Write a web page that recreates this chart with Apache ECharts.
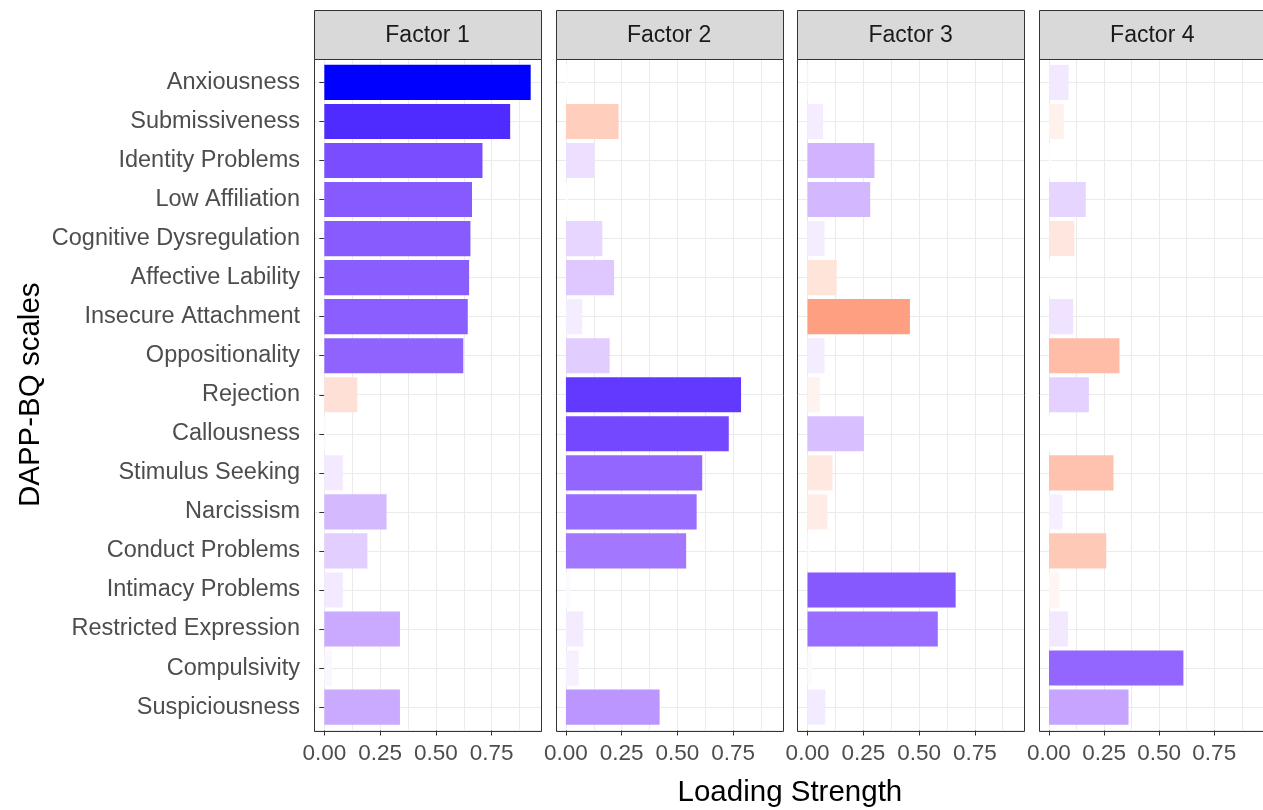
<!DOCTYPE html>
<html>
<head>
<meta charset="utf-8">
<script src="https://cdn.jsdelivr.net/npm/echarts@6/dist/echarts.min.js"></script>
<style>
  html, body { margin: 0; padding: 0; background: #ffffff; }
  #chart { width: 1263px; height: 810px; }
</style>
</head>
<body>
<div id="chart"></div>
<script>
// DAPP-BQ scale loadings on four factors (signed loadings; bar length = |loading|)
const scales = [
  'Anxiousness', 'Submissiveness', 'Identity Problems', 'Low Affiliation',
  'Cognitive Dysregulation', 'Affective Lability', 'Insecure Attachment',
  'Oppositionality', 'Rejection', 'Callousness', 'Stimulus Seeking',
  'Narcissism', 'Conduct Problems', 'Intimacy Problems',
  'Restricted Expression', 'Compulsivity', 'Suspiciousness'
];
const factorNames = ['Factor 1', 'Factor 2', 'Factor 3', 'Factor 4'];

const factor1 = [0.925, 0.833, 0.709, 0.662, 0.655, 0.649, 0.643, 0.623, -0.148, 0.01, 0.083, 0.279, 0.193, 0.083, 0.339, 0.033, 0.339];
const factor2 = [0.01, -0.236, 0.127, 0.01, 0.163, 0.216, 0.073, 0.196, 0.785, 0.730, 0.611, 0.586, 0.539, 0.02, 0.078, 0.057, 0.420];
const factor3 = [0.01, 0.070, 0.300, 0.281, 0.076, -0.131, -0.459, 0.076, -0.056, 0.253, -0.112, -0.090, 0.01, 0.664, 0.584, 0.02, 0.080];
const factor4 = [0.089, -0.067, 0.01, 0.167, -0.115, 0.005, 0.110, -0.320, 0.181, 0.005, -0.293, 0.062, -0.260, -0.047, 0.087, 0.610, 0.361];
const loadings = [factor1, factor2, factor3, factor4];

const tickValues = [0, 0.25, 0.5, 0.75];
const xTitle = 'Loading Strength';
const yTitle = 'DAPP-BQ scales';

// ---- layout ----
const FONT = '"Liberation Sans", Arial, Helvetica, sans-serif';
const PANEL_LEFT0 = 314;
const PANEL_STEP = 241.6;
const PANEL_W = 227;
const PANEL_TOP = 59;
const PANEL_H = 671.5;
const STRIP_TOP = 10;
const STRIP_H = PANEL_TOP - STRIP_TOP;
const GRID_COL = '#ebebeb';
const BORDER_COL = '#333333';

// discrete axis padded by 0.6 of a band on each side
const nCat = scales.length;
const unit = PANEL_H / (nCat - 1 + 1.2);
const innerTop = PANEL_TOP + 0.1 * unit;
const innerH = nCat * unit;

// continuous axis: 5% padding around [0, max|loading|]
const maxAbs = Math.max(...loadings.flat().map(Math.abs));
const xMin = -0.05 * maxAbs;
const xMax = 1.05 * maxAbs;

// ---- diverging fill: red - white - blue, interpolated in CIE Lab ----
function toLinear(c) { c /= 255; return c <= 0.04045 ? c / 12.92 : Math.pow((c + 0.055) / 1.055, 2.4); }
function fromLinear(c) { const v = c <= 0.0031308 ? 12.92 * c : 1.055 * Math.pow(c, 1 / 2.4) - 0.055; return Math.max(0, Math.min(255, Math.round(v * 255))); }
const XN = 0.95047, YN = 1.0, ZN = 1.08883;
function rgbToLab(rgb) {
  const [r, g, b] = rgb.map(toLinear);
  const X = (0.4124564 * r + 0.3575761 * g + 0.1804375 * b) / XN;
  const Y = (0.2126729 * r + 0.7151522 * g + 0.0721750 * b) / YN;
  const Z = (0.0193339 * r + 0.1191920 * g + 0.9503041 * b) / ZN;
  const f = t => t > 0.008856 ? Math.cbrt(t) : 7.787 * t + 16 / 116;
  const fx = f(X), fy = f(Y), fz = f(Z);
  return [116 * fy - 16, 500 * (fx - fy), 200 * (fy - fz)];
}
function labToRgb(lab) {
  const fy = (lab[0] + 16) / 116, fx = fy + lab[1] / 500, fz = fy - lab[2] / 200;
  const inv = t => t * t * t > 0.008856 ? t * t * t : (t - 16 / 116) / 7.787;
  const X = inv(fx) * XN, Y = inv(fy) * YN, Z = inv(fz) * ZN;
  const r = 3.2404542 * X - 1.5371385 * Y - 0.4985314 * Z;
  const g = -0.9692660 * X + 1.8760108 * Y + 0.0415560 * Z;
  const b = 0.0556434 * X - 0.2040259 * Y + 1.0572252 * Z;
  return [fromLinear(r), fromLinear(g), fromLinear(b)];
}
const LAB_LOW = rgbToLab([255, 0, 0]);
const LAB_MID = rgbToLab([255, 255, 255]);
const LAB_HIGH = rgbToLab([0, 0, 255]);
function fillFor(v) {
  const t = Math.min(1, Math.abs(v) / maxAbs);
  const end = v >= 0 ? LAB_HIGH : LAB_LOW;
  const lab = LAB_MID.map((m, k) => m + (end[k] - m) * t);
  const [r, g, b] = labToRgb(lab);
  return `rgb(${r},${g},${b})`;
}

// ---- build option ----
const grids = [], xAxes = [], yAxes = [], series = [], graphics = [];

loadings.forEach((vals, i) => {
  const left = PANEL_LEFT0 + i * PANEL_STEP;

  // panel background grid (gridlines, x ticks and labels)
  grids.push({ left: left, top: PANEL_TOP, width: PANEL_W, height: PANEL_H, containLabel: false });
  // data grid (bars on the category axis)
  grids.push({ left: left, top: innerTop, width: PANEL_W, height: innerH, containLabel: false });

  xAxes.push({
    type: 'value', gridIndex: 2 * i, min: xMin, max: xMax,
    minInterval: 0.25, maxInterval: 0.25,
    axisLine: { show: false },
    axisTick: { show: true, customValues: tickValues, length: 5, lineStyle: { color: BORDER_COL, width: 1 } },
    axisLabel: {
      show: true, customValues: tickValues, margin: 12,
      formatter: v => Number(v).toFixed(2),
      fontSize: 22.5, fontFamily: FONT, color: '#4d4d4d'
    },
    splitLine: { show: true, lineStyle: { color: GRID_COL, width: 1 } },
    minorTick: { show: false, splitNumber: 2 },
    minorSplitLine: { show: true, lineStyle: { color: GRID_COL, width: 1 } }
  });
  yAxes.push({
    type: 'value', gridIndex: 2 * i, min: 0.4, max: nCat + 0.6, inverse: true,
    minInterval: 1, maxInterval: 1,
    axisLine: { show: false }, axisTick: { show: false }, axisLabel: { show: false },
    splitLine: { show: true, lineStyle: { color: GRID_COL, width: 1 } }
  });

  xAxes.push({ type: 'value', gridIndex: 2 * i + 1, min: xMin, max: xMax, show: false });
  yAxes.push({
    type: 'category', gridIndex: 2 * i + 1, data: scales, inverse: true,
    show: i === 0,
    axisLine: { show: false },
    axisTick: { show: true, alignWithLabel: true, length: 5, lineStyle: { color: BORDER_COL, width: 1 } },
    axisLabel: { show: true, margin: 14, fontSize: 23.5, fontFamily: FONT, color: '#4d4d4d' },
    splitLine: { show: false }
  });

  series.push({
    type: 'bar', name: factorNames[i],
    xAxisIndex: 2 * i + 1, yAxisIndex: 2 * i + 1,
    barWidth: '90%', silent: true,
    data: vals.map(v => ({ value: Math.abs(v), itemStyle: { color: fillFor(v) } }))
  });

  // panel border and facet strip
  const x0 = Math.round(left) + 0.5;
  graphics.push({
    type: 'rect', z: 100, silent: true,
    shape: { x: x0, y: PANEL_TOP + 0.5, width: PANEL_W, height: Math.round(PANEL_H) },
    style: { fill: null, stroke: BORDER_COL, lineWidth: 1 }
  });
  graphics.push({
    type: 'rect', z: 100, silent: true,
    shape: { x: x0, y: STRIP_TOP + 0.5, width: PANEL_W, height: STRIP_H },
    style: { fill: '#d9d9d9', stroke: BORDER_COL, lineWidth: 1 }
  });
  graphics.push({
    type: 'text', z: 101, silent: true,
    x: left + PANEL_W / 2, y: STRIP_TOP + STRIP_H / 2 + 1,
    style: { text: factorNames[i], textAlign: 'center', textVerticalAlign: 'middle',
             font: '23px ' + FONT, fill: '#1a1a1a' }
  });
});

// axis titles
const panelsRight = PANEL_LEFT0 + 3 * PANEL_STEP + PANEL_W;
graphics.push({
  type: 'text', silent: true,
  x: (PANEL_LEFT0 + panelsRight) / 2, y: 793,
  style: { text: xTitle, textAlign: 'center', textVerticalAlign: 'middle', font: '29.5px ' + FONT, fill: '#000000' }
});
graphics.push({
  type: 'text', silent: true,
  x: 31, y: PANEL_TOP + PANEL_H / 2, rotation: Math.PI / 2,
  style: { text: yTitle, textAlign: 'center', textVerticalAlign: 'middle', font: '29.5px ' + FONT, fill: '#000000' }
});

const chart = echarts.init(document.getElementById('chart'), null, { renderer: 'canvas' });
chart.setOption({
  backgroundColor: '#ffffff',
  animation: false,
  grid: grids,
  xAxis: xAxes,
  yAxis: yAxes,
  series: series,
  graphic: graphics
});
</script>
</body>
</html>
